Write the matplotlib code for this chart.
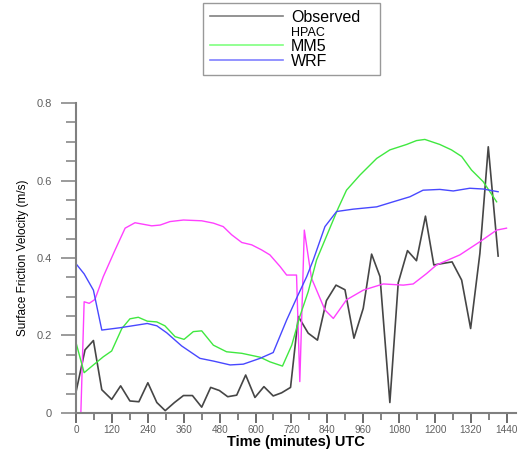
import numpy as np
import matplotlib
matplotlib.use("Agg")
import matplotlib.pyplot as plt
from matplotlib.lines import Line2D
plt.rcParams['font.family'] = ['Liberation Sans', 'DejaVu Sans']

# Observed
obs_t = [0, 30, 58, 86, 119, 149, 180, 210, 240, 270, 298, 329, 359, 389, 420, 450, 479,
         507, 537, 567, 598, 628, 659, 687, 717, 743, 776, 807, 837, 869, 899, 929, 960,
         988, 1016, 1049, 1077, 1108, 1138, 1168, 1196, 1257, 1289, 1319, 1350, 1378, 1411]
obs_v = [0.055, 0.163, 0.187, 0.06, 0.035, 0.07, 0.031, 0.029, 0.078, 0.027, 0.006, 0.027,
         0.045, 0.045, 0.015, 0.066, 0.058, 0.042, 0.046, 0.098, 0.04, 0.068, 0.044, 0.052,
         0.066, 0.249, 0.206, 0.188, 0.29, 0.33, 0.318, 0.193, 0.27, 0.41, 0.352, 0.027,
         0.336, 0.419, 0.393, 0.508, 0.382, 0.39, 0.343, 0.218, 0.412, 0.687, 0.405]

# HPAC
hpac_t = [16, 27, 44, 63, 91, 130, 164, 197, 253, 281, 314, 359, 420, 459, 492, 520, 554,
          587, 620, 648, 682, 704, 737, 748, 763, 787, 832, 860, 904, 960, 1027, 1094,
          1127, 1172, 1205, 1283, 1350, 1406, 1439]
hpac_v = [0.0, 0.287, 0.283, 0.293, 0.352, 0.42, 0.477, 0.491, 0.483, 0.485, 0.494, 0.498,
          0.496, 0.49, 0.481, 0.46, 0.44, 0.434, 0.421, 0.408, 0.378, 0.356, 0.356, 0.081,
          0.472, 0.348, 0.266, 0.244, 0.292, 0.317, 0.333, 0.33, 0.333, 0.36, 0.382, 0.408,
          0.442, 0.472, 0.477]

# MM5
mm5_t = [0, 27, 58, 91, 119, 153, 180, 208, 238, 270, 297, 331, 361, 392, 420, 459, 503,
         554, 615, 648, 690, 721, 748, 776, 804, 876, 904, 949, 1005, 1049, 1105, 1138,
         1166, 1216, 1255, 1289, 1322, 1361, 1406]
mm5_v = [0.181, 0.104, 0.124, 0.145, 0.16, 0.218, 0.243, 0.247, 0.237, 0.235, 0.225, 0.197,
         0.19, 0.21, 0.212, 0.175, 0.158, 0.154, 0.144, 0.132, 0.121, 0.175, 0.249, 0.313,
         0.395, 0.528, 0.575, 0.614, 0.657, 0.679, 0.693, 0.703, 0.706, 0.693, 0.679, 0.662,
         0.627, 0.597, 0.545]

# WRF
wrf_t = [0, 27, 58, 86, 147, 238, 270, 303, 353, 414, 459, 515, 559, 615, 659, 704, 737,
         771, 793, 832, 871, 926, 1005, 1060, 1116, 1160, 1216, 1261, 1316, 1361, 1411]
wrf_v = [0.385, 0.359, 0.317, 0.214, 0.22, 0.231, 0.225, 0.207, 0.173, 0.141, 0.134, 0.124,
         0.126, 0.141, 0.156, 0.24, 0.296, 0.352, 0.395, 0.481, 0.52, 0.526, 0.532, 0.545,
         0.558, 0.575, 0.577, 0.573, 0.58, 0.578, 0.571]

xticks = [0, 120, 240, 360, 480, 600, 720, 840, 960, 1080, 1200, 1320, 1440]

fig = plt.figure(figsize=(5.21, 4.51), dpi=100)
ax = fig.add_axes([0.146, 0.0843, 0.844, 0.6873])

ax.plot(obs_t, obs_v, color='#464646', lw=1.2)
ax.plot(hpac_t, hpac_v, color='#ff40ff', lw=1.0)
ax.plot(mm5_t, mm5_v, color='#40e840', lw=1.0)
ax.plot(wrf_t, wrf_v, color='#4848ff', lw=1.0)

ax.set_xlim(0, 1470)
ax.set_ylim(0, 0.8)
ax.set_xticks(xticks)
ax.set_xticks(np.arange(60, 1470, 120), minor=True)
ax.set_yticks([0, 0.2, 0.4, 0.6, 0.8])
ax.set_yticklabels(['0', '0.2', '0.4', '0.6', '0.8'])
ax.set_yticks(np.arange(0, 0.81, 0.05), minor=True)

for s in ['top', 'right']:
    ax.spines[s].set_visible(False)
for s in ['left', 'bottom']:
    ax.spines[s].set_color('#808080')
    ax.spines[s].set_linewidth(1.5)

ax.tick_params(axis='y', which='major', length=10.5, width=1.1, color='#808080',
               labelsize=8, labelcolor='#606060', pad=7)
ax.tick_params(axis='y', which='minor', length=7, width=1.1, color='#808080')
ax.tick_params(axis='x', which='major', length=7, width=1.3, color='#606060',
               labelsize=7.2, labelcolor='#606060', pad=1.5)
ax.tick_params(axis='x', which='minor', length=5, width=1.1, color='#606060')

ax.set_xlabel('Time (minutes) UTC', fontsize=10.5, fontweight='bold', labelpad=0)
ax.set_ylabel('Surface Friction Velocity (m/s)', fontsize=8.5, labelpad=5)

handles = [Line2D([], [], color='#808080', lw=1.2),
           Line2D([], [], color='white', lw=0),
           Line2D([], [], color='#80ff80', lw=1.2),
           Line2D([], [], color='#8080ff', lw=1.2)]
labels = ['Observed', 'HPAC', 'MM5', 'WRF']
leg = fig.legend(handles, labels, loc='upper left',
                 bbox_to_anchor=(0.39, 0.83, 0.34, 0.163), mode='expand',
                 borderaxespad=0, frameon=True, fancybox=False, fontsize=11.5,
                 handlelength=4.6, labelspacing=0.0, borderpad=0.4, handletextpad=0.5)
leg.get_texts()[1].set_fontsize(9)
leg.get_frame().set_edgecolor('#808080')
leg.get_frame().set_linewidth(1.0)

fig.savefig('out.png', dpi=100)
